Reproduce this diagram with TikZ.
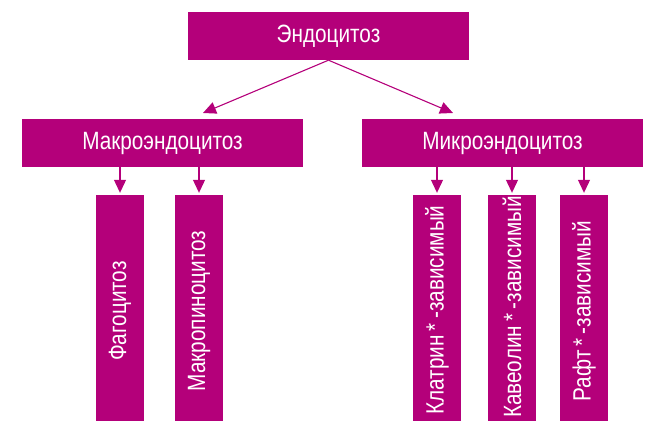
\documentclass[tikz,border=0pt]{standalone}
\usepackage{fontspec}
\setmainfont{Liberation Sans}
\newfontfamily\condfont[FakeStretch=0.83]{Liberation Sans}
\usetikzlibrary{arrows.meta,calc}
\definecolor{mag}{RGB}{180,0,122}
\begin{document}
\begin{tikzpicture}[x=1pt,y=-1pt,
  hbox/.style={fill=mag,draw=none,text=white,minimum width=281pt,minimum height=48pt,inner sep=0pt,font=\condfont\fontsize{25}{28}\selectfont},
  vbar/.style={fill=mag,draw=none,minimum width=48pt,minimum height=230pt,inner sep=0pt},
  vtext/.style={text=white,rotate=90,inner sep=0pt,font=\condfont\fontsize{25}{28}\selectfont},
  arr/.style={draw=mag,line width=1.1pt,-{Triangle[length=13pt,width=12pt]}}]
\clip (0,0) rectangle (647,420);
\useasboundingbox (0,0) rectangle (647,420);
\node[hbox] (top) at (328.5,36) {Эндоцитоз};
\node[hbox] (macro) at (162.5,143) {Макроэндоцитоз};
\node[hbox] (micro) at (502.5,143) {Микроэндоцитоз};
\node[vbar] (b1) at (120,310) {};
\node[vbar] (b2) at (199,310) {};
\node[vbar] (b3) at (437,310) {};
\node[vbar] (b4) at (512,310) {};
\node[vbar] (b5) at (584,310) {};
\node[vtext] (t1) at (120,311) {Фагоцитоз};
\node[vtext] (t2) at (199,311) {Макропиноцитоз};
\node[vtext] (t3) at (437,310) {Клатрин\,*\,-зависимый};
\node[vtext] (t4) at (512,307) {Кавеолин\,*\,-зависимый};
\node[vtext] (t5) at (584,311) {Рафт\,*\,-зависимый};
\coordinate (lt) at (203,113);
\coordinate (rt) at (453,113);
\draw[arr] (top.south) -- (lt);
\draw[arr] (top.south) -- (rt);
\foreach \b/\p in {b1/macro,b2/macro,b3/micro,b4/micro,b5/micro}{
  \draw[arr,shorten >=2pt] (\p.south -| \b.north) -- (\b.north);
}
\end{tikzpicture}
\end{document}
